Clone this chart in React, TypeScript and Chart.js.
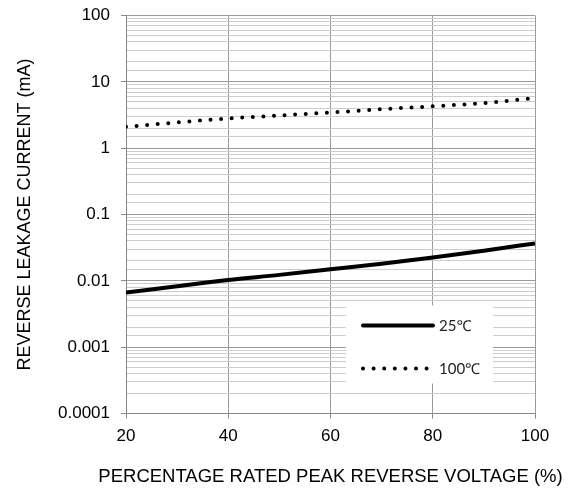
import { useEffect, useRef } from 'react';
import { Chart, registerables } from 'chart.js';

Chart.register(...registerables);

const voltagePct = [20, 30, 40, 50, 60, 70, 80, 90, 100];
const current25C = [0.00665, 0.0083, 0.0103, 0.0123, 0.015, 0.0181, 0.0225, 0.0285, 0.0367];
const current100C = [2.1, 2.44, 2.8, 3.11, 3.45, 3.86, 4.28, 4.79, 5.69];
const seriesLabels = ['25\u2103', '100\u2103'];
const yTickLabels = ['0.0001', '0.001', '0.01', '0.1', '1', '10', '100'];
const xTickValues = [20, 40, 60, 80, 100];
const xTitle = 'PERCENTAGE RATED PEAK REVERSE VOLTAGE (%)';
const yTitle = 'REVERSE LEAKAGE CURRENT (mA)';

const FONT = "'Liberation Sans', Arial, sans-serif";

const isPow10 = (v: number) => {
  const l = Math.log10(v);
  return Math.abs(l - Math.round(l)) < 1e-6;
};

const legendPlugin = {
  id: 'boxLegend',
  afterDatasetsDraw(chart: any) {
    const { ctx, chartArea } = chart;
    const left = chartArea.left + 220;
    const top = chartArea.top + 290;
    const w = 147;
    const h = 78;
    ctx.save();
    ctx.fillStyle = '#ffffff';
    ctx.fillRect(left, top, w, h);
    const rows = [top + 20, top + 63];
    chart.data.datasets.forEach((ds: any, i: number) => {
      const yy = rows[i];
      ctx.beginPath();
      ctx.strokeStyle = ds.borderColor;
      ctx.lineWidth = ds.borderWidth;
      ctx.lineCap = 'round';
      ctx.setLineDash(ds.borderDash || []);
      ctx.moveTo(left + 17, yy);
      ctx.lineTo(left + (ds.borderDash && ds.borderDash.length ? 82.5 : 87), yy);
      ctx.stroke();
      ctx.setLineDash([]);
      ctx.fillStyle = '#222';
      ctx.font = "15px Lato, 'Noto Sans', sans-serif";
      ctx.textBaseline = 'middle';
      ctx.textAlign = 'left';
      ctx.fillText(ds.label, left + 93, yy + 1);
    });
    ctx.restore();
  },
};

const xTitlePlugin = {
  id: 'xTitle',
  afterDraw(chart: any) {
    const { ctx, chartArea } = chart;
    ctx.save();
    ctx.fillStyle = '#000';
    ctx.font = `18.5px ${FONT}`;
    ctx.textAlign = 'center';
    ctx.textBaseline = 'middle';
    ctx.fillText(xTitle, (chartArea.left + chartArea.right) / 2, 477);
    ctx.restore();
  },
};

export default function App() {
  const ref = useRef<HTMLCanvasElement | null>(null);

  useEffect(() => {
    if (!ref.current) return;
    const chart = new Chart(ref.current, {
      type: 'line',
      data: {
        labels: voltagePct,
        datasets: [
          {
            label: seriesLabels[0],
            data: voltagePct.map((x, i) => ({ x, y: current25C[i] })),
            borderColor: '#000000',
            borderWidth: 4,
            pointRadius: 0,
            cubicInterpolationMode: 'monotone',
            borderCapStyle: 'butt',
          },
          {
            label: seriesLabels[1],
            data: voltagePct.map((x, i) => ({ x, y: current100C[i] })),
            borderColor: '#000000',
            borderWidth: 4,
            borderDash: [0, 10.6],
            borderCapStyle: 'round',
            pointRadius: 0,
            cubicInterpolationMode: 'monotone',
          },
        ],
      },
      options: {
        animation: false,
        responsive: true,
        maintainAspectRatio: false,
        layout: { padding: { left: 0, top: 15.5, right: 46, bottom: 0 } },
        plugins: {
          legend: { display: false },
          tooltip: { enabled: false },
        },
        scales: {
          x: {
            type: 'linear',
            min: 20,
            max: 100,
            afterBuildTicks: (scale: any) => {
              scale.ticks = xTickValues.map((v) => ({ value: v }));
            },
            afterFit: (scale: any) => {
              scale.height = 76.5;
            },
            ticks: {
              color: '#000',
              font: { family: FONT, size: 17 },
              padding: 8,
              maxRotation: 0,
            },
            grid: {
              color: '#9a9a9a',
              tickColor: '#888',
              tickLength: 5,
              lineWidth: 1,
            },
            border: { color: '#888', width: 1 },
            title: { display: false, text: xTitle },
          },
          y: {
            type: 'logarithmic',
            min: 0.0001,
            max: 100,
            afterFit: (scale: any) => {
              scale.width = 126;
            },
            ticks: {
              autoSkip: false,
              color: '#000',
              font: { family: FONT, size: 17, lineHeight: 0.5 },
              padding: 11,
              callback: (v: any) => {
                const n = Number(v);
                if (!isPow10(n)) return '';
                const e = Math.round(Math.log10(n));
                return yTickLabels[e + 4] ?? '';
              },
            },
            grid: {
              color: (c: any) => (c.tick && isPow10(c.tick.value) ? '#9a9a9a' : '#cdcdcd'),
              tickColor: (c: any) => (c.tick && isPow10(c.tick.value) ? '#888' : 'rgba(0,0,0,0)'),
              tickLength: 5,
              lineWidth: 1,
            },
            border: { color: '#888', width: 1 },
            title: {
              display: true,
              text: yTitle,
              color: '#000',
              font: { family: FONT, size: 18 },
              padding: { top: 14, bottom: 0 },
            },
          },
        },
      },
      plugins: [legendPlugin, xTitlePlugin],
    } as any);
    return () => chart.destroy();
  }, []);

  return (
    <div style={{ position: 'fixed', left: 0, top: 0, width: 581, height: 490, background: '#fff' }}>
      <canvas ref={ref} />
    </div>
  );
}
